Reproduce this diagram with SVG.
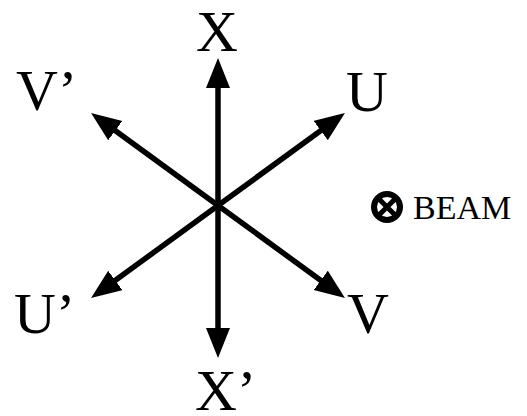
<svg xmlns="http://www.w3.org/2000/svg" width="527" height="416" viewBox="0 0 527 416">
<style>
.lbl{font-family:"Liberation Serif","Times New Roman",serif;font-size:58px;fill:#000}
.ax{stroke:#000;stroke-width:5.5;fill:none;marker-end:url(#ah)}
.beam{font-family:"Liberation Serif","Times New Roman",serif;font-size:34px;fill:#000}
</style>
<defs>
<marker id="ah" markerUnits="userSpaceOnUse" markerWidth="32" markerHeight="26" refX="10" refY="12" orient="auto">
<path d="M0,0 L30,12 L0,24 Z" fill="#000"/>
</marker>
</defs>
<rect width="527" height="416" fill="#fff"/>
<g id="connectors">
<line class="ax" x1="218" y1="205.5" x2="218" y2="78"/>
<line class="ax" x1="218" y1="205.5" x2="218" y2="338"/>
<line class="ax" x1="218" y1="205.5" x2="328.8" y2="124.7"/>
<line class="ax" x1="218" y1="205.5" x2="107.2" y2="124.7"/>
<line class="ax" x1="218" y1="205.5" x2="107.2" y2="286.3"/>
<line class="ax" x1="218" y1="205.5" x2="328.8" y2="286.3"/>
</g>
<g id="X"><text class="lbl" x="217" y="51" text-anchor="middle">X</text></g>
<g id="Xp"><text class="lbl" x="195" y="410">X’</text></g>
<g id="U"><text class="lbl" x="346" y="111">U</text></g>
<g id="Vp"><text class="lbl" x="16" y="110">V’</text></g>
<g id="Up"><text class="lbl" x="14" y="333">U’</text></g>
<g id="V"><text class="lbl" x="347" y="333">V</text></g>
<g id="beam">
<circle cx="387" cy="207" r="13" fill="#fff" stroke="#000" stroke-width="6"/>
<path d="M378,198 L396,216 M396,198 L378,216" stroke="#000" stroke-width="5"/>
<text class="beam" x="413" y="219">BEAM</text>
</g>
</svg>
